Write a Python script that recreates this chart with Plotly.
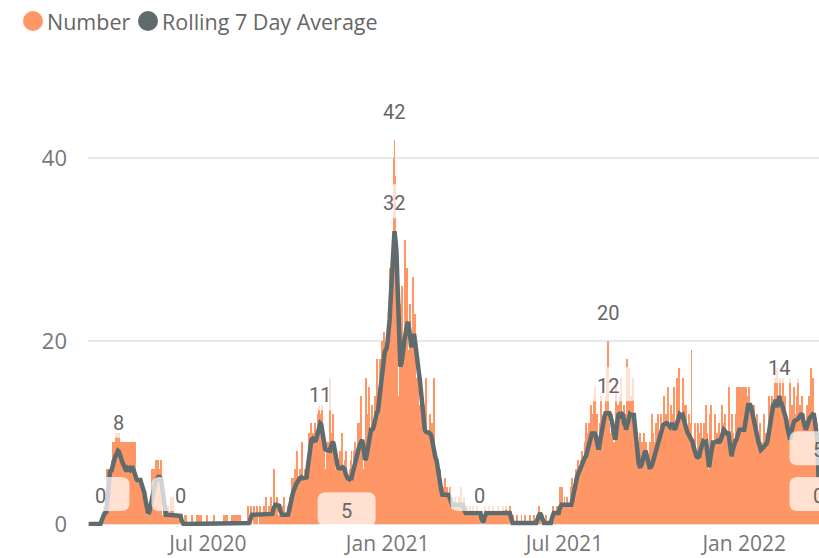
import pandas as pd
import plotly.graph_objects as go

# Daily counts ("Number"), one list per month, starting 1 Mar 2020
num_2020_03 = [0,0,0,0,0,0,0,0,0,0,0,0,0,0,0,1,2,1,2,6,6,5,6,4,7,9,9,8,10,10,9]
num_2020_04 = [10,9,9,8,9,9,7,9,9,8,9,9,8,9,6,9,9,5,5,4,5,5,4,3,4,3,3,2,1,1]
num_2020_05 = [0,1,2,3,6,2,6,4,7,5,7,6,5,7,0,1,2,0,1,1,2,1,0,3,1,3,0,1,1,0,1]
num_2020_06 = [1,0,0,0,0,0,0,1,1,0,0,0,0,0,1,0,0,0,0,1,0,1,0,1,0,0,0,0,0,1]
num_2020_07 = [0,0,0,0,0,0,1,0,0,0,0,0,0,0,0,0,1,0,1,0,1,0,0,0,0,1,0,1,0,1,1]
num_2020_08 = [0,1,1,0,0,0,0,0,0,0,2,1,0,2,0,0,2,1,0,2,0,0,2,0,1,0,2,0,3,0,1]
num_2020_09 = [0,2,1,3,0,2,6,1,2,3,1,0,1,0,1,2,3,1,0,1,2,1,3,2,5,3,5,6,4,8]
num_2020_10 = [4,5,6,5,9,3,5,6,4,5,7,10,8,7,11,9,10,8,11,9,10,12,13,12,11,13,5,10,6,6,9]
num_2020_11 = [9,6,16,7,10,12,8,5,6,4,7,6,8,5,10,6,4,7,8,3,5,4,6,7,8,3,5,8,9,8]
num_2020_12 = [6,11,10,11,14,8,6,4,7,16,12,9,15,10,8,13,11,9,14,12,18,11,15,18,14,20,16,21,19,17,20]
num_2021_01 = [20,17,28,22,25,30,40,42,38,26,21,14,10,24,20,26,14,18,31,24,28,19,17,24,20,18,27,21,23,16,13]
num_2021_02 = [16,10,13,9,12,8,13,11,16,9,10,8,12,7,11,9,16,7,6,7,5,6,4,6,2,3,4,2]
num_2021_03 = [5,2,4,3,1,4,2,3,2,1,3,2,2,1,3,2,4,2,1,3,1,1,2,0,1,2,1,1,2,1,1]
num_2021_04 = [1,2,1,1,0,1,0,0,1,1,2,1,1,1,2,1,1,1,2,1,1,1,1,2,1,1,1,1,2,1]
num_2021_05 = [1,2,1,1,1,2,0,0,1,0,0,0,1,0,0,0,0,1,0,0,0,1,0,0,0,0,1,0,0,0,1]
num_2021_06 = [0,0,1,1,2,1,0,0,0,0,0,1,0,0,0,0,0,1,2,1,1,1,2,1,1,4,2,4,1,2]
num_2021_07 = [3,2,1,3,2,1,2,4,5,2,4,5,6,4,7,5,6,7,8,6,7,9,11,7,10,11,9,13,12,10,14]
num_2021_08 = [15,9,12,8,6,11,14,10,11,12,8,14,17,13,20,11,8,10,12,7,9,6,16,12,13,11,14,16,10,12,13]
num_2021_09 = [12,9,18,13,17,11,14,9,16,12,8,10,6,9,5,10,7,9,8,10,6,9,4,7,6,5,9,8,12,10]
num_2021_10 = [6,9,11,8,12,10,7,12,11,9,14,10,12,8,15,11,9,13,10,12,15,8,11,16,13,17,10,12,11,16,13]
num_2021_11 = [9,13,10,8,12,7,11,19,9,6,8,11,5,7,11,6,10,11,8,9,11,7,13,10,5,6,12,13,7,9]
num_2021_12 = [8,12,9,10,7,11,9,6,13,8,11,12,9,10,7,15,9,6,12,8,10,9,7,12,15,10,15,11,15,9,15]
num_2022_01 = [15,11,15,14,12,15,10,13,12,9,13,11,8,12,7,10,11,6,9,8,12,7,10,9,8,14,13,11,14,12,10]
num_2022_02 = [16,13,15,17,12,14,16,11,13,16,12,14,8,11,9,10,16,9,13,11,15,8,12,14,16,10,13,11]
num_2022_03 = [14,10,12,9,11,13,10,14,12,17,11,16,12,9,8,11,10,0]

# Rolling 7 day average, same days
avg_2020_03 = [0,0,0,0,0,0,0,0,0,0,0,0,0,0.3,0.6,1.0,1.1,1.2,1.3,2.5,4.0,5.3,5.9,5.7,6.0,6.4,6.9,7.3,7.6,7.9,8.0]
avg_2020_04 = [7.9,7.5,7.0,6.7,6.6,6.4,6.1,5.9,5.9,6.1,6.0,6.1,5.9,6.0,6.1,5.9,5.4,5.0,4.9,4.8,4.8,4.7,4.8,4.4,4.1,3.8,3.4,2.7,2.0,1.6]
avg_2020_05 = [1.1,1.3,1.9,2.5,3.0,3.6,4.0,4.4,4.8,5.0,5.1,5.0,5.1,5.0,4.2,3.0,2.0,1.2,1.0,1.0,1.0,1.0,1.0,1.0,1.0,1.0,1.0,1.0,1.0,1.0,1.0]
avg_2020_06 = [1.0,1.0,0.9,0.4,0.1,0,0,0,0,0,0,0,0,0,0,0,0,0,0,0,0,0,0,0,0,0,0,0,0,0]
avg_2020_07 = [0,0,0,0,0,0,0,0,0,0,0,0,0,0,0,0,0,0,0,0,0,0,0,0,0,0,0,0,0,0,0]
avg_2020_08 = [0,0,0,0,0,0,0,0,0,0,0,0.1,0.3,0.7,1.0,1.0,1.0,1.0,1.0,1.0,1.0,1.0,1.0,1.0,1.0,1.0,1.0,1.0,1.0,1.0,1.0]
avg_2020_09 = [1.0,1.0,1.0,1.0,1.1,1.6,2.1,2.1,2.1,2.1,2.1,2.0,1.5,1.0,1.0,1.0,1.0,1.0,1.0,1.0,1.0,1.4,2.0,2.6,3.0,3.4,3.7,4.1,4.2,4.5]
avg_2020_10 = [4.6,5.0,5.0,5.0,5.1,5.0,5.0,5.1,5.0,5.1,6.0,7.0,8.0,8.8,9.2,9.3,9.1,9.2,9.0,9.3,9.8,10.3,10.8,11.0,10.9,10.2,9.2,8.7,8.2,8.1,8.1]
avg_2020_11 = [8.1,8.1,8.0,8.5,8.9,9.0,8.6,8.0,7.2,6.5,6.2,6.1,6.1,6.0,6.1,6.2,6.1,6.0,5.5,5.0,5.0,5.0,4.9,5.0,5.0,5.5,6.0,6.2,6.7,7.2]
avg_2020_12 = [7.5,8.0,8.5,8.8,9.0,9.2,8.5,7.5,7.0,7.2,7.8,8.6,9.5,10.0,10.3,10.3,10.4,10.8,11.5,12.1,12.2,12.3,13.2,14.5,15.7,16.8,17.5,18.3,18.8,19.0,19.2]
avg_2021_01 = [20.0,21.0,22.3,24.5,26.7,28.5,30.5,32.0,31.0,29.8,26.5,22.3,19.5,17.2,17.5,18.0,19.0,20.0,20.8,21.5,21.8,22.1,21.5,20.5,19.3,20.0,20.6,20.8,20.0,18.8,18.6]
avg_2021_02 = [17.5,16.5,15.7,14.5,13.5,12.1,11.2,10.3,10.1,10.0,10.0,10.0,9.9,9.8,9.5,8.8,8.2,7.6,7.2,7.0,6.2,5.6,5.0,4.2,3.6,3.2,3.2,3.2]
avg_2021_03 = [3.2,3.2,3.1,3.2,3.0,2.6,2.3,2.1,2.1,2.1,2.1,2.1,2.1,2.1,2.1,2.1,2.1,2.1,2.1,1.6,1.2,1.2,1.2,1.2,1.2,1.2,1.2,1.2,1.2,1.2,1.2]
avg_2021_04 = [1.2,1.2,1.2,1.2,1.2,1.2,0.6,0.2,0.2,0.7,1.2,1.2,1.2,1.2,1.2,1.2,1.2,1.2,1.2,1.2,1.2,1.2,1.2,1.2,1.2,1.2,1.2,1.2,1.2,1.2]
avg_2021_05 = [1.2,1.2,1.2,1.2,1.2,1.2,0.8,0.3,0.1,0.1,0.1,0.1,0.1,0.1,0.1,0.1,0.1,0.1,0.1,0.1,0.1,0.1,0.1,0.1,0.1,0.1,0.1,0.1,0.1,0.1,0.1]
avg_2021_06 = [0.1,0.1,0.4,0.8,1.2,1.2,1.0,0.6,0.2,0.1,0.1,0.1,0.1,0.1,0.1,0.1,0.1,0.6,1.2,1.2,1.2,1.2,1.2,1.2,1.2,1.7,2.1,2.1,2.1,2.1]
avg_2021_07 = [2.1,2.1,2.1,2.1,2.1,2.1,2.1,2.1,2.6,3.3,3.8,4.3,4.7,5.2,5.5,5.8,6.1,6.3,6.6,6.9,7.1,7.3,7.4,7.9,8.4,8.8,9.2,9.6,9.9,9.9,9.9]
avg_2021_08 = [9.9,9.6,9.0,8.4,8.1,8.8,9.5,9.9,10.5,11.2,11.8,12.1,12.1,12.1,12.0,12.1,11.8,11.5,11.0,10.3,9.6,9.2,10.2,11.2,11.9,12.0,11.9,11.8,12.0,11.9,11.0]
avg_2021_09 = [11.0,10.3,10.8,11.5,11.9,12.0,11.9,11.9,12.0,11.9,10.8,9.5,8.1,7.3,6.6,6.3,6.3,6.5,7.2,7.6,7.8,8.0,7.4,6.8,6.3,6.2,6.2,6.3,6.6,7.0]
avg_2021_10 = [7.4,7.8,8.1,8.6,9.2,9.5,9.9,10.3,10.6,10.8,10.9,11.0,11.0,11.0,10.9,10.8,10.6,10.8,11.0,10.8,10.5,10.3,10.6,11.0,11.5,11.9,12.0,11.9,11.8,11.9,11.4]
avg_2021_11 = [11.0,10.6,10.3,10.0,9.8,9.6,9.4,9.2,9.0,8.5,8.0,7.6,7.4,7.3,7.4,7.4,8.0,8.4,8.8,9.0,8.9,9.0,9.0,8.0,7.0,6.2,7.0,8.0,8.8,8.9]
avg_2021_12 = [8.9,9.0,9.0,9.0,9.1,9.0,9.0,9.2,9.6,10.0,10.3,10.2,10.0,9.9,9.9,9.9,9.0,8.0,7.4,8.0,8.5,8.9,9.1,9.2,9.6,10.0,10.3,10.3,10.3,10.3,10.3]
avg_2022_01 = [10.3,11.0,12.0,13.0,13.0,13.0,13.0,12.8,12.2,11.6,11.0,10.5,10.0,9.6,9.2,8.8,8.4,8.1,8.2,8.3,8.4,8.5,8.7,8.8,9.2,10.0,10.8,11.5,11.7,12.5,13.2]
avg_2022_02 = [13.0,13.6,13.0,12.8,13.4,14.0,13.2,13.2,12.9,12.5,12.2,12.1,11.4,10.6,9.9,9.5,9.2,10.0,10.5,11.0,11.2,11.3,11.3,11.4,11.5,11.7,11.9,12.1]
avg_2022_03 = [12.1,11.5,11.0,10.5,10.3,10.6,11.0,11.3,11.6,11.7,11.9,12.0,12.1,11.5,10.8,10.3,9.0,5.0]

# Points that carry a data label: (date, series, label placed above or below)
label_points = [
    ("2020-03-13", "number", "above"),
    ("2020-03-31", "average", "above"),
    ("2020-06-03", "number", "above"),
    ("2020-10-24", "average", "above"),
    ("2020-11-20", "average", "below"),
    ("2021-01-08", "number", "above"),
    ("2021-01-08", "average", "above"),
    ("2021-04-05", "number", "above"),
    ("2021-08-15", "number", "above"),
    ("2021-08-15", "average", "above"),
    ("2022-02-06", "average", "above"),
    ("2022-03-18", "average", "above"),
    ("2022-03-18", "number", "above"),
]

tick_dates = ["2020-07-01", "2021-01-01", "2021-07-01", "2022-01-01"]
tick_text = ["Jul 2020", "Jan 2021", "Jul 2021", "Jan 2022"]
y_ticks = [0, 20, 40]

number = (num_2020_03 + num_2020_04 + num_2020_05 + num_2020_06 + num_2020_07 + num_2020_08
          + num_2020_09 + num_2020_10 + num_2020_11 + num_2020_12 + num_2021_01 + num_2021_02
          + num_2021_03 + num_2021_04 + num_2021_05 + num_2021_06 + num_2021_07 + num_2021_08
          + num_2021_09 + num_2021_10 + num_2021_11 + num_2021_12 + num_2022_01 + num_2022_02
          + num_2022_03)
average = (avg_2020_03 + avg_2020_04 + avg_2020_05 + avg_2020_06 + avg_2020_07 + avg_2020_08
           + avg_2020_09 + avg_2020_10 + avg_2020_11 + avg_2020_12 + avg_2021_01 + avg_2021_02
           + avg_2021_03 + avg_2021_04 + avg_2021_05 + avg_2021_06 + avg_2021_07 + avg_2021_08
           + avg_2021_09 + avg_2021_10 + avg_2021_11 + avg_2021_12 + avg_2022_01 + avg_2022_02
           + avg_2022_03)
dates = pd.date_range("2020-03-01", periods=len(number), freq="D")
df = pd.DataFrame({"number": number, "average": average}, index=dates)

ORANGE = "#FE9666"
GREY = "#5F6B6D"
AXIS_TEXT = "#777777"
LABEL_TEXT = "#666666"
UI_FONT = "Open Sans"
LABEL_FONT = "Roboto"

W, H = 819, 558
L, R, T, B = 88, 0, 100, 32
PX_PER_UNIT = 9.15
Y_MIN = -2 / PX_PER_UNIT            # leaves room for the line drawn along zero
Y_MAX = Y_MIN + (H - T - B) / PX_PER_UNIT

fig = go.Figure()
fig.add_trace(go.Bar(
    x=df.index, y=df["number"], name="Number",
    marker=dict(color=ORANGE, line=dict(width=0)),
    width=86400000, showlegend=False,
))
fig.add_trace(go.Scatter(
    x=df.index, y=df["average"], name="Rolling 7 Day Average", mode="lines",
    line=dict(color=GREY, width=4.5), showlegend=False,
))


def rounded_box(cx, cy, hw, hh, r):
    """SVG path for a rounded rectangle, pixel offsets, y pointing up."""
    top, bot, lft, rgt = cy + hh, cy - hh, cx - hw, cx + hw
    return (f"M {lft + r},{top} L {rgt - r},{top} Q {rgt},{top} {rgt},{top - r} "
            f"L {rgt},{bot + r} Q {rgt},{bot} {rgt - r},{bot} "
            f"L {lft + r},{bot} Q {lft},{bot} {lft},{bot + r} "
            f"L {lft},{top - r} Q {lft},{top} {lft + r},{top} Z")


shapes = []
annotations = []
for day, series, side in label_points:
    value = df.loc[pd.Timestamp(day), series]
    shift = 30 if side == "above" else -31
    shapes.append(dict(
        type="path", xref="x", yref="y", xsizemode="pixel", ysizemode="pixel",
        xanchor=day, yanchor=value, path=rounded_box(0, shift, 29, 17, 8),
        fillcolor="rgba(255,255,255,0.7)", line=dict(width=0), layer="above",
    ))
    annotations.append(dict(
        x=day, y=value, xref="x", yref="y", text=f"{value:.0f}", showarrow=False,
        yshift=shift - 2, xanchor="center", yanchor="middle",
        font=dict(family=LABEL_FONT, size=20, color=LABEL_TEXT),
    ))


def fx(px):
    return (px - L) / (W - L - R)


def fy(py):
    return (H - B - py) / (H - T - B)


# Legend: coloured dots followed by the series names
for cx, color in [(33, ORANGE), (148, GREY)]:
    shapes.append(dict(
        type="circle", xref="paper", yref="paper", xsizemode="pixel", ysizemode="pixel",
        xanchor=fx(cx), yanchor=fy(21), x0=-10, x1=10, y0=-10, y1=10,
        fillcolor=color, line=dict(width=0),
    ))
for tx, text in [(45, "Number"), (160, "Rolling 7 Day Average")]:
    annotations.append(dict(
        x=fx(tx), y=fy(21), xref="paper", yref="paper", text=text, showarrow=False,
        xanchor="left", yanchor="middle",
        font=dict(family=UI_FONT, size=21.5, color=LABEL_TEXT),
    ))

x_start = pd.Timestamp("2020-03-01") - pd.Timedelta(hours=17)
x_end = pd.Timestamp("2022-03-18") + pd.Timedelta(hours=12)

fig.update_layout(
    template="none",
    width=W, height=H, margin=dict(l=L, r=R, t=T, b=B, pad=0),
    paper_bgcolor="white", plot_bgcolor="white",
    bargap=0, showlegend=False,
    shapes=shapes, annotations=annotations,
    xaxis=dict(
        type="date", range=[x_start, x_end], automargin=False,
        tickvals=tick_dates, ticktext=tick_text,
        showgrid=False, zeroline=False, showline=False, ticks="",
        tickfont=dict(family=UI_FONT, size=21, color=AXIS_TEXT),
        ticklabelstandoff=3,
    ),
    yaxis=dict(
        range=[Y_MIN, Y_MAX], tickvals=y_ticks, automargin=False,
        showgrid=True, gridcolor="#E8E8E8", gridwidth=2,
        zeroline=False, showline=False, ticks="",
        tickfont=dict(family=UI_FONT, size=22, color=AXIS_TEXT),
        ticklabelstandoff=20,
    ),
    hovermode=False,
)

fig.write_html("out.html")
